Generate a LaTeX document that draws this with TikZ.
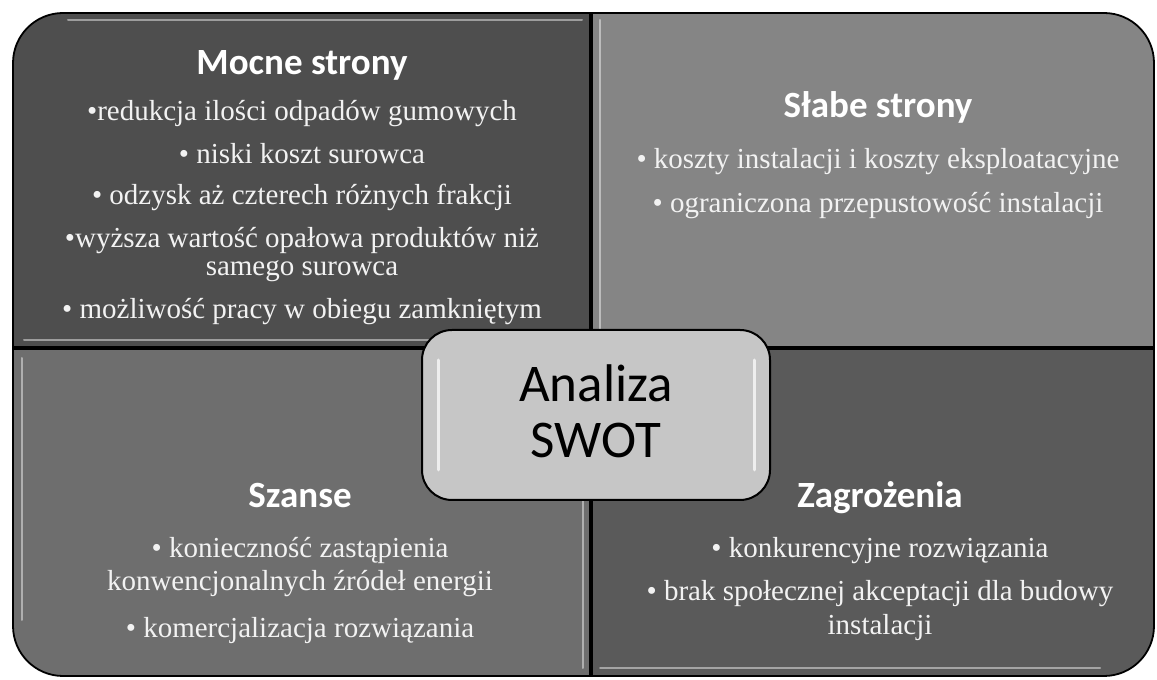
\documentclass[tikz,border=0pt]{standalone}
\usepackage{fontspec}
\setmainfont{Liberation Serif}
\newfontfamily\calfont{Carlito}
\definecolor{qtl}{HTML}{4E4E4E}
\definecolor{qtr}{HTML}{858585}
\definecolor{qbl}{HTML}{6E6E6E}
\definecolor{qbr}{HTML}{5A5A5A}
\definecolor{cbox}{HTML}{C6C6C6}
\definecolor{txt}{HTML}{F2F2F2}
\begin{document}
\begin{tikzpicture}[x=1pt,y=1pt,
  quad/.style={draw=black,line width=1.8pt},
  ttl/.style={font=\calfont\bfseries\fontsize{37}{42}\selectfont, text=white, anchor=base, inner sep=0pt},
  itm/.style={font=\fontsize{29}{32}\selectfont, text=txt, anchor=base, inner sep=0pt},
  ctr/.style={font=\calfont\fontsize{53}{56}\selectfont, text=black, anchor=base, inner sep=0pt},
  gloss/.style={white, line width=2pt, opacity=0.45, line cap=round}]
\useasboundingbox (0,0) rectangle (1157,680);
\fill[white] (0,0) rectangle (1157,680);
% quadrants
\filldraw[quad, fill=qtl] (590,333) -- (13,333) -- (13,617) arc[start angle=180, end angle=90, radius=50] -- (590,667) -- cycle;
\filldraw[quad, fill=qtr] (592,333) -- (592,667) -- (1104,667) arc[start angle=90, end angle=0, radius=50] -- (1154,333) -- cycle;
\filldraw[quad, fill=qbl] (590,331) -- (13,331) -- (13,54) arc[start angle=180, end angle=270, radius=50] -- (590,4) -- cycle;
\filldraw[quad, fill=qbr] (592,331) -- (1154,331) -- (1154,54) arc[start angle=0, end angle=-90, radius=50] -- (592,4) -- cycle;
% gloss highlights
\draw[gloss] (68,660) -- (582,660);
\draw[gloss] (24,340) -- (582,340);
\draw[gloss] (600,340) -- (600,660);
\draw[gloss] (22,322) -- (22,60);
\draw[gloss] (583,322) -- (583,12);
\draw[gloss] (600,12) -- (1100,12);
% center box
\node[draw=black, line width=2pt, rounded corners=30pt, fill=cbox, minimum width=348pt, minimum height=170pt, inner sep=0pt] (swot) at (596,265) {};
\draw[gloss, opacity=0.7, line width=3pt] (438,320) -- (438,210);
\draw[gloss, opacity=0.7, line width=3pt] (754,320) -- (754,210);
\node[ctr] (analiza) at (596,278) {Analiza};
\node[ctr] (swotlbl) at (596,222) {SWOT};
% Mocne strony
\node[ttl] (s0) at (302,605) {Mocne strony};
\node[itm] (s1) at (302,559) {•redukcja ilości odpadów gumowych};
\node[itm] (s2) at (302,516) {• niski koszt surowca};
\node[itm] (s3) at (302,475) {• odzysk aż czterech różnych frakcji};
\node[itm] (s4) at (302,432) {•wyższa wartość opałowa produktów niż};
\node[itm] (s4b) at (302,404) {samego surowca};
\node[itm] (s5) at (302,361) {• możliwość pracy w obiegu zamkniętym};
% Slabe strony
\node[ttl] (w0) at (878,562) {Słabe strony};
\node[itm] (w1) at (878,511) {• koszty instalacji i koszty eksploatacyjne};
\node[itm] (w2) at (878,467) {• ograniczona przepustowość instalacji};
% Szanse
\node[ttl] (o0) at (300,172) {Szanse};
\node[itm] (o1) at (300,122) {• konieczność zastąpienia};
\node[itm] (o1b) at (300,89) {konwencjonalnych źródeł energii};
\node[itm] (o2) at (300,42) {• komercjalizacja rozwiązania};
% Zagrozenia
\node[ttl] (t0) at (880,172) {Zagrożenia};
\node[itm] (t1) at (880,122) {• konkurencyjne rozwiązania};
\node[itm] (t2) at (880,79) {• brak społecznej akceptacji dla budowy};
\node[itm] (t2b) at (880,45) {instalacji};
\end{tikzpicture}
\end{document}
